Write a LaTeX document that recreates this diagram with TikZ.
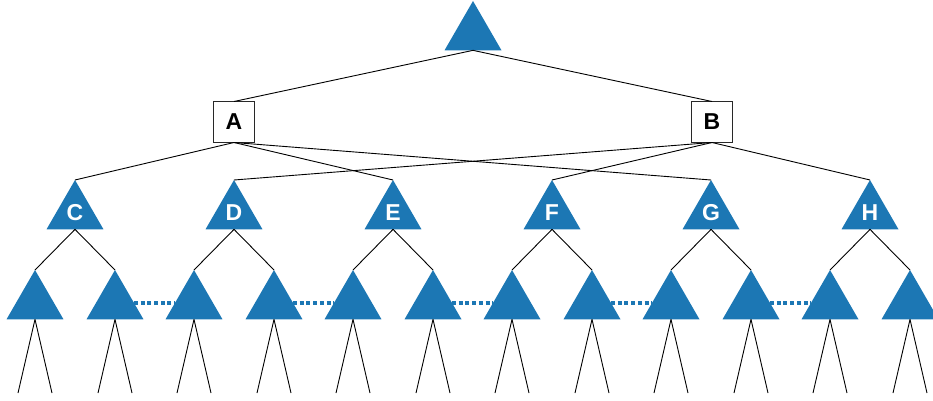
\documentclass[tikz,border=0pt]{standalone}
\usepackage{fontspec}
\setsansfont{Liberation Sans}
\usetikzlibrary{shapes.geometric}
\definecolor{treeblue}{RGB}{28,119,180}
\definecolor{boxedge}{RGB}{40,40,40}
\tikzset{
  tri/.style={regular polygon, regular polygon sides=3, minimum size=65.8pt,
    inner sep=0pt, outer sep=0pt, fill=treeblue, draw=none,
    text=white, font=\sffamily\bfseries\fontsize{23}{23}\selectfont},
  choicebox/.style={draw=boxedge, line width=1pt, minimum size=41pt, inner sep=0pt,
    outer sep=0pt, fill=white, font=\sffamily\bfseries\fontsize{23}{23}\selectfont},
  link/.style={line width=0.9pt, black},
  sibling/.style={line width=4pt, treeblue, dash pattern=on 4pt off 2.7pt}
}
\begin{document}
\begin{tikzpicture}[x=1pt, y=-1pt]
  \useasboundingbox (0,0) rectangle (933,401);

  % root and the two decision boxes
  \node[tri] (root) at (473,33.9) {};
  \node[choicebox] (A) at (234,122) {A};
  \node[choicebox] (B) at (712,122) {B};
  \draw[link] (root.south) -- (A.north);
  \draw[link] (root.south) -- (B.north);

  % second level
  \foreach \name/\x in {C/75, D/234, E/393, F/552, G/711, H/870}
    \node[tri] (\name) at (\x,212.9) {\name};

  \foreach \t in {C, E, G} \draw[link] (A.south) -- (\t.north);
  \foreach \t in {D, F, H} \draw[link] (B.south) -- (\t.north);

  % third level: two subtrees under every second-level node
  \foreach \name/\x in {C/75, D/234, E/393, F/552, G/711, H/870} {
    \node[tri] (\name1) at (\x-40,302.9) {};
    \node[tri] (\name2) at (\x+40,302.9) {};
    \draw[link] (\name.south) -- (\name1.north);
    \draw[link] (\name.south) -- (\name2.north);
    \foreach \k/\dx in {1/-40, 2/40} {
      \coordinate (\name\k l) at (\x+\dx-17,393);
      \coordinate (\name\k r) at (\x+\dx+17,393);
      \draw[link] (\name\k.south) -- (\name\k l);
      \draw[link] (\name\k.south) -- (\name\k r);
    }
  }

  % dotted links between neighbouring subtrees
  \foreach \a/\b in {C/D, D/E, E/F, F/G, G/H}
    \draw[sibling] (\a2.east) -- (\b1.west);
\end{tikzpicture}
\end{document}
